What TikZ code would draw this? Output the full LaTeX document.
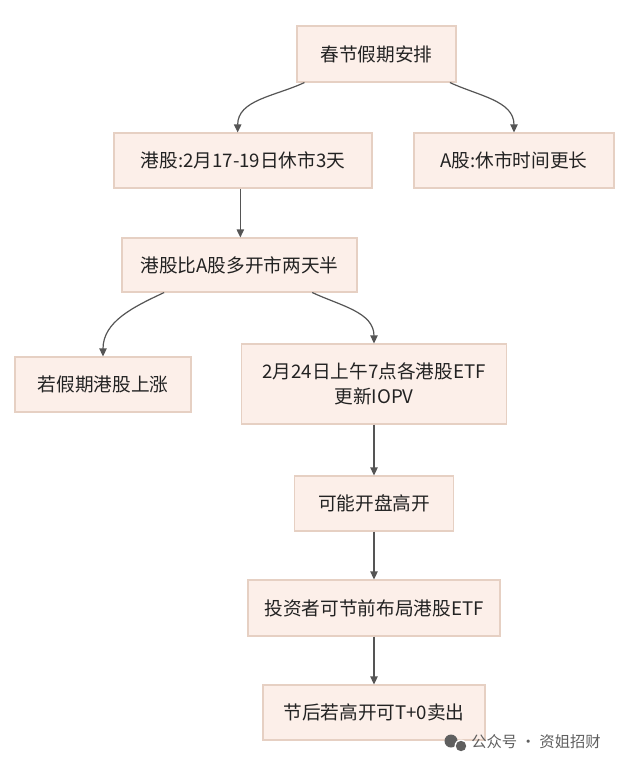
\documentclass[tikz,border=0pt]{standalone}
\usepackage{fontspec}
\setmainfont{Noto Sans CJK SC}
\usetikzlibrary{arrows.meta}
\definecolor{boxfill}{HTML}{FCEFE9}
\definecolor{boxline}{HTML}{E6D0C3}
\definecolor{arrowc}{HTML}{555555}
\definecolor{txt}{HTML}{222222}
\definecolor{wm}{HTML}{5F5F5F}
\tikzset{
  box/.style={draw=boxline, fill=boxfill, line width=0.8pt, text=txt,
    font=\fontsize{14}{19}\selectfont, inner sep=0pt, align=center},
  arr/.style={draw=arrowc, line width=0.9pt, -{Triangle[length=6pt,width=5.5pt]}},
}
\begin{document}
\begin{tikzpicture}[x=0.75pt,y=-0.75pt]
\useasboundingbox (0,0) rectangle (629,770);
\fill[white] (0,0) rectangle (629,770);

\node[box, minimum width=119.25pt, minimum height=42pt] (n1) at (376.5,54) {春节假期安排};
\node[box, minimum width=193.5pt, minimum height=41.25pt] (n2) at (243,160.5) {港股:2月17-19日休市3天};
\node[box, minimum width=150pt, minimum height=41.25pt] (n3) at (514,160.5) {A股:休市时间更长};
\node[box, minimum width=176.25pt, minimum height=40.5pt] (n4) at (239.5,265) {港股比A股多开市两天半};
\node[box, minimum width=132pt, minimum height=41.25pt] (n5) at (103,384.5) {若假期港股上涨};
\node[box, minimum width=198.75pt, minimum height=60pt] (n6) at (374,384) {2月24日上午7点各港股ETF\\更新IOPV};
\node[box, minimum width=119.25pt, minimum height=41.25pt] (n7) at (374,503.5) {可能开盘高开};
\node[box, minimum width=189pt, minimum height=42pt] (n8) at (374,608) {投资者可节前布局港股ETF};
\node[box, minimum width=166.5pt, minimum height=41.25pt] (n9) at (374,712.5) {节后若高开可T+0卖出};

\draw[arr] ([xshift=6pt]n1.south west) to[out=205,in=90] ([xshift=-4pt]n2.north);
\draw[arr] ([xshift=-5pt]n1.south east) to[out=-25,in=90] (n3.north);
\draw[arr] ([xshift=-2pt]n2.south) -- ([xshift=-2pt]n2.south |- n4.north);
\draw[arr] ([xshift=32pt]n4.south west) to[out=205,in=90] (n5.north);
\draw[arr] ([xshift=-34pt]n4.south east) to[out=-25,in=90] (n6.north);
\draw[arr] (n6.south) -- (n7.north);
\draw[arr] (n7.south) -- (n8.north);
\draw[arr] (n8.south) -- (n9.north);

% watermark
\fill[wm] (451,741) circle (6.5);
\fill[white] (461,746) circle (6.5);
\fill[wm] (461,746) circle (5.2);
\node[text=wm, font=\fontsize{11.5}{14}\selectfont, anchor=west, inner sep=0pt] (wmt) at (471,742) {公众号 · 资姐招财};
\end{tikzpicture}
\end{document}
